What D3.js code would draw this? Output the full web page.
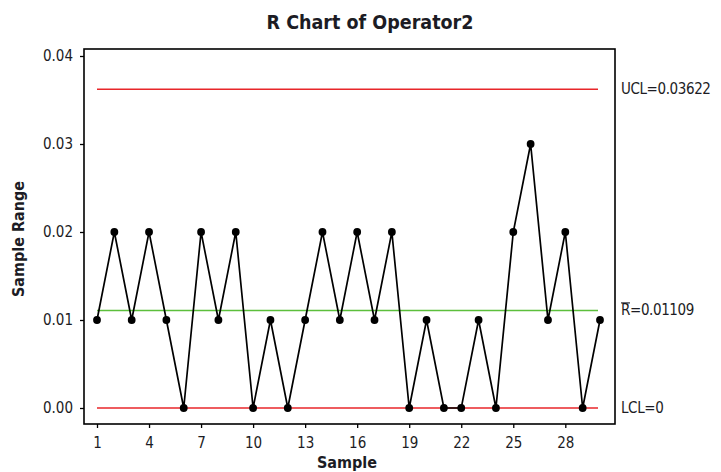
<!DOCTYPE html>
<html><head><meta charset="utf-8">
<script src="https://cdn.jsdelivr.net/npm/d3@7"></script>
<style>body{margin:0;background:#fff}svg{display:block}</style>
</head><body>
<script>
const samples = d3.range(1, 31);
const ranges = [0.01,0.02,0.01,0.02,0.01,0.00,0.02,0.01,0.02,0.00,
                0.01,0.00,0.01,0.02,0.01,0.02,0.01,0.02,0.00,0.01,
                0.00,0.00,0.01,0.00,0.02,0.03,0.01,0.02,0.00,0.01];
const UCL = 0.03622, RBAR = 0.01109, LCL = 0;
const yTicks = [0.00, 0.01, 0.02, 0.03, 0.04];
const xTicks = [1,4,7,10,13,16,19,22,25,28];

const W = 721, H = 472;
const svg = d3.select("body").append("svg").attr("width", W).attr("height", H);
const font = "'DejaVu Sans Condensed', 'DejaVu Sans', sans-serif";
const ink = "#1c1c24";

const x = d3.scaleLinear().domain([1, 30]).range([97, 600]);
const y = d3.scaleLinear().domain([0, 0.04]).range([408, 56]);
const frame = {l: 84, r: 615, t: 49, b: 424};

svg.append("rect").attr("x", frame.l).attr("y", frame.t)
  .attr("width", frame.r - frame.l).attr("height", frame.b - frame.t)
  .attr("fill", "none").attr("stroke", "#000").attr("stroke-width", 1.6);

// y axis
const yAxis = svg.append("g").attr("transform", `translate(${frame.l},0)`)
  .call(d3.axisLeft(y).tickValues(yTicks).tickFormat(d3.format(".2f")).tickSize(4).tickPadding(7));
yAxis.select(".domain").remove();
yAxis.selectAll("text").attr("font-family", font).attr("font-size", 15).attr("fill", ink);
yAxis.selectAll("line").attr("stroke", "#000").attr("stroke-width", 1.3);

// x axis
const xAxis = svg.append("g").attr("transform", `translate(0,${frame.b})`)
  .call(d3.axisBottom(x).tickValues(xTicks).tickSize(4).tickPadding(9));
xAxis.select(".domain").remove();
xAxis.selectAll("text").attr("font-family", font).attr("font-size", 15).attr("fill", ink);
xAxis.selectAll("line").attr("stroke", "#000").attr("stroke-width", 1.3);

// control lines
const ctl = [{v: UCL, c: "#e8262a"}, {v: RBAR, c: "#5cbf3c"}, {v: LCL, c: "#e8262a"}];
svg.selectAll(".ctl").data(ctl).join("line")
  .attr("x1", x(1)).attr("x2", x(30) - 2)
  .attr("y1", d => y(d.v)).attr("y2", d => y(d.v))
  .attr("stroke", d => d.c).attr("stroke-width", 1.5);

// data line
const pts = samples.map((s, i) => [s, ranges[i]]);
svg.append("path").datum(pts)
  .attr("d", d3.line().x(d => x(d[0])).y(d => y(d[1])))
  .attr("fill", "none").attr("stroke", "#000").attr("stroke-width", 1.7);
svg.selectAll(".pt").data(pts).join("circle")
  .attr("cx", d => x(d[0])).attr("cy", d => y(d[1])).attr("r", 3.9).attr("fill", "#000");

// right labels
const lab = [{t: "UCL=0.03622", v: UCL}, {t: "R=0.01109", v: RBAR, bar: true}, {t: "LCL=0", v: LCL}];
lab.forEach(d => {
  svg.append("text").attr("x", 621).attr("y", y(d.v) + 5)
    .attr("font-family", font).attr("font-size", 15).attr("fill", ink)
    .attr("letter-spacing", -0.4).text(d.t);
  if (d.bar) {
    svg.append("line").attr("x1", 621).attr("x2", 630).attr("y1", y(d.v) - 7.5).attr("y2", y(d.v) - 7.5)
      .attr("stroke", ink).attr("stroke-width", 1.1);
  }
});

// title & axis titles
svg.append("text").attr("x", 370).attr("y", 29).attr("text-anchor", "middle")
  .attr("font-family", font).attr("font-weight", "bold").attr("font-size", 19.5).attr("fill", ink)
  .text("R Chart of Operator2");
svg.append("text").attr("x", 347).attr("y", 468).attr("text-anchor", "middle")
  .attr("font-family", font).attr("font-weight", "bold").attr("font-size", 16).attr("fill", ink)
  .text("Sample");
svg.append("text").attr("transform", "translate(24,239) rotate(-90)").attr("text-anchor", "middle")
  .attr("font-family", font).attr("font-weight", "bold").attr("font-size", 16).attr("fill", ink)
  .text("Sample Range");
</script>
</body></html>
